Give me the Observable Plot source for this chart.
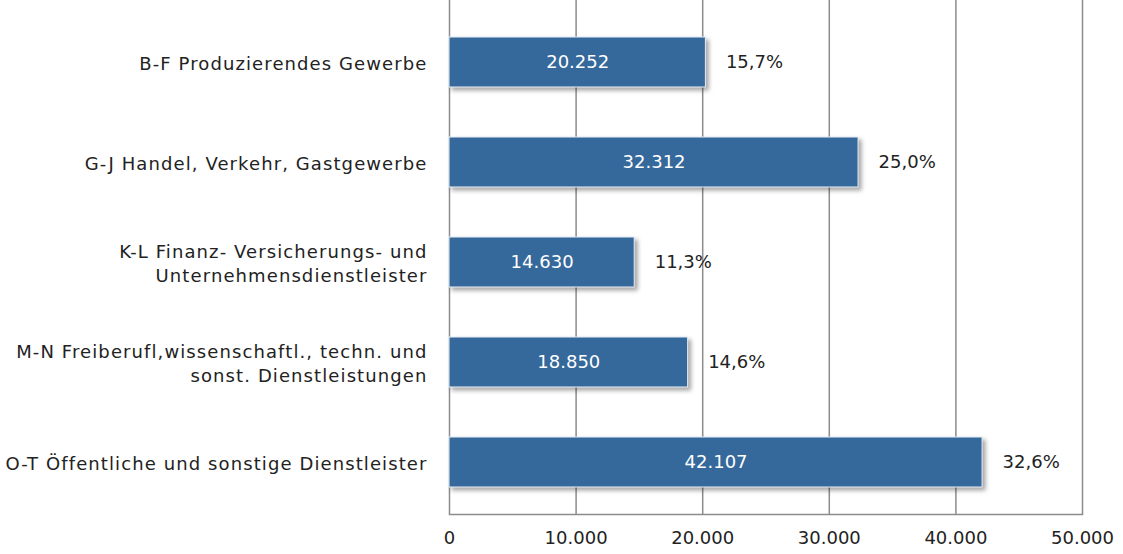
<!DOCTYPE html>
<html>
<head>
<meta charset="utf-8">
<script src="https://cdn.jsdelivr.net/npm/d3@7"></script>
<script src="https://cdn.jsdelivr.net/npm/@observablehq/plot@0.6"></script>
<style>
  html, body { margin: 0; padding: 0; background: #fff; }
  #chart svg { display: block; }
</style>
</head>
<body>
<div id="chart"></div>
<script>
const categories = [
  "B-F Produzierendes Gewerbe",
  "G-J Handel, Verkehr, Gastgewerbe",
  "K-L Finanz- Versicherungs- und\nUnternehmensdienstleister",
  "M-N Freiberufl,wissenschaftl., techn. und\nsonst. Dienstleistungen",
  "O-T Öffentliche und sonstige Dienstleister"
];
const values = [20252, 32312, 14630, 18850, 42107];
const shares = [15.7, 25.0, 11.3, 14.6, 32.6];
const xTicks = [0, 10000, 20000, 30000, 40000, 50000];

const de = d3.formatLocale({decimal: ",", thousands: ".", grouping: [3], currency: ["", " €"]});
const fmtInt = de.format(",d");
const fmtPct = de.format(".1f");

const data = categories.map((c, i) => ({cat: c, value: values[i], share: shares[i]}));
const font = "'Century Gothic', 'URW Gothic', 'DejaVu Sans', sans-serif";

const chart = Plot.plot({
  width: 1123,
  height: 554,
  marginLeft: 449,
  marginRight: 41,
  marginTop: 0,
  marginBottom: 40,
  style: {fontFamily: font, fontSize: "18px", color: "#222", background: "#fff"},
  x: {domain: [0, 50000], ticks: xTicks, label: null},
  y: {domain: categories, range: [10, 514], paddingInner: 0.5, paddingOuter: 0.25, axis: null, label: null},
  marks: [
    Plot.gridX(xTicks, {stroke: "#8c8c8c", strokeOpacity: 1, strokeWidth: 1.5}),
    Plot.frame({anchor: "bottom", stroke: "#8c8c8c", strokeWidth: 1.5}),
    Plot.axisX({ticks: xTicks, tickSize: 0, tickPadding: 17, tickFormat: fmtInt, fontSize: 18, fill: "#222", label: null}),
    Plot.barX(data, {x: "value", y: "cat", fill: "#35689b", stroke: "#e8eef5", strokeWidth: 1}),
    Plot.text(data, {x: d => d.value / 2, y: "cat", text: d => fmtInt(d.value), fill: "#fff", fontSize: 18}),
    Plot.text(data, {x: "value", y: "cat", text: d => fmtPct(d.share) + "%", textAnchor: "start", dx: 20, fill: "#222", fontSize: 18}),
    Plot.text(data, {y: "cat", text: "cat", frameAnchor: "left", textAnchor: "end", dx: -22, lineHeight: 1.33, fill: "#222", fontSize: 18})
  ]
});

chart.querySelectorAll('g[aria-label="bar"] rect').forEach(r => {
  r.style.filter = "drop-shadow(3px 3px 2px rgba(0,0,0,0.35))";
});
// Wider letter spacing to approximate the wide geometric original typeface on category labels
const textGroups = chart.querySelectorAll('g[aria-label="text"]');
const catGroup = textGroups[textGroups.length - 1];
if (catGroup) catGroup.style.letterSpacing = "1.1px";
document.getElementById("chart").appendChild(chart);
</script>
</body>
</html>
